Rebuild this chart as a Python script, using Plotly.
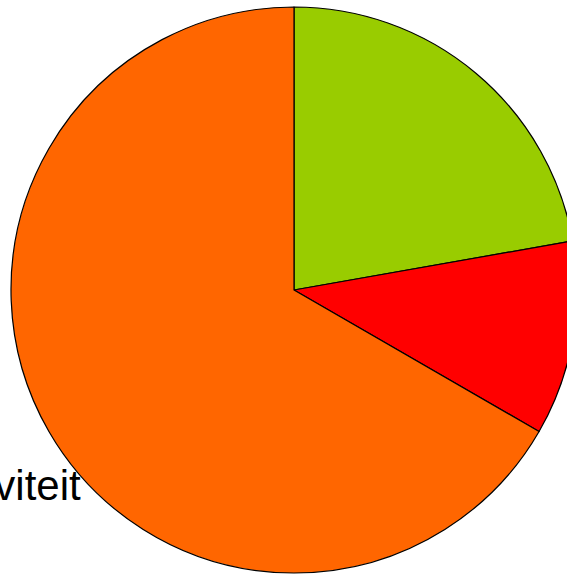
import plotly.graph_objects as go

categories = ["Categorie A", "Categorie B", "activiteit"]
values = [2, 1, 6]
colors = ["#99CC00", "#FF0000", "#FF6600"]
label_text = "activiteit"

W, H = 578, 574
fig = go.Figure(go.Pie(
    labels=categories,
    values=values,
    sort=False,
    direction="clockwise",
    rotation=0,
    marker=dict(colors=colors, line=dict(color="black", width=1.2)),
    textinfo="none",
    hoverinfo="label+percent",
    showlegend=False,
    domain=dict(x=[0, 1], y=[0, 1]),
))

pw = W - 11 - 1
ph = H - 7 - 1
fig.update_layout(
    width=W, height=H,
    margin=dict(l=11, r=1, t=7, b=1),
    paper_bgcolor="white",
    plot_bgcolor="white",
    annotations=[dict(
        text=label_text, x=(83 - 11) / pw, y=(H - 1 - 502 - 9) / ph,
        xref="paper", yref="paper",
        showarrow=False, xanchor="right", yanchor="bottom",
        font=dict(family="Liberation Sans, Arial, sans-serif", size=42, color="black"),
    )],
)

fig.write_html("out.html", post_script="document.body.style.overflow='hidden';document.body.style.margin='0';")
